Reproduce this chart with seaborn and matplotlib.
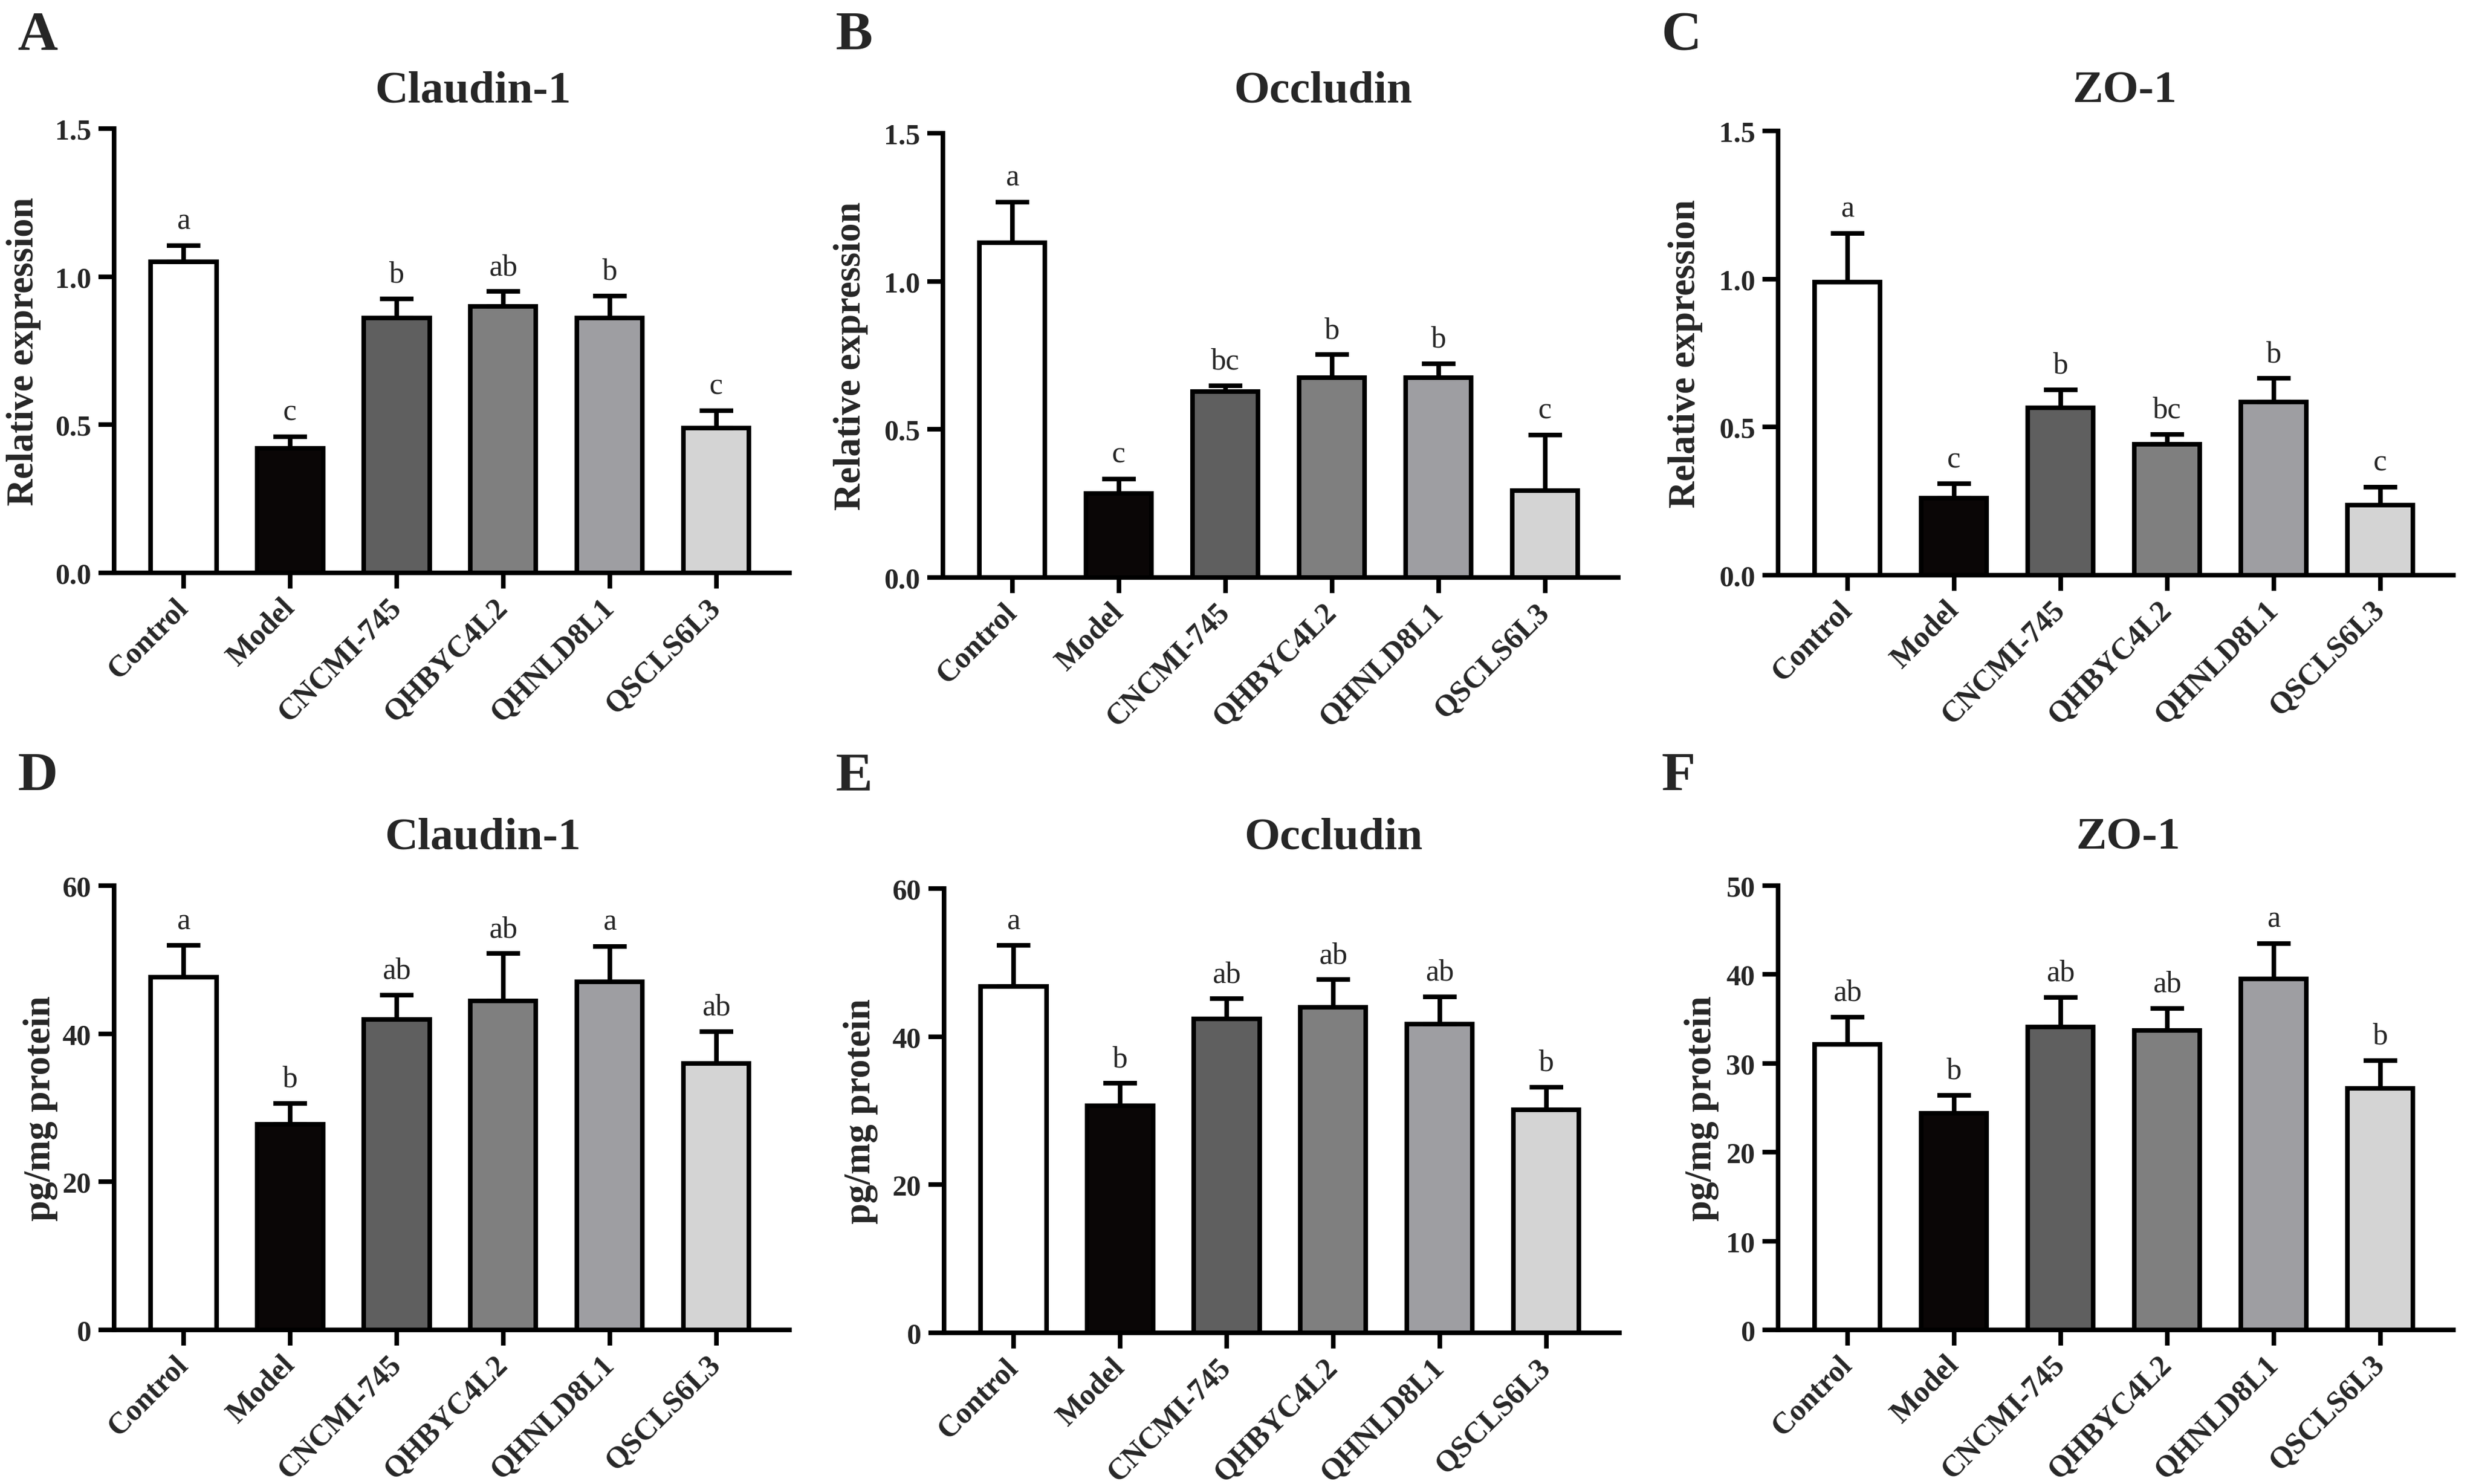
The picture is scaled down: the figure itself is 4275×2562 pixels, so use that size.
import numpy as np
import pandas as pd
import seaborn as sns
import matplotlib.pyplot as plt

# groups and bar colours
groups = ["Control", "Model", "CNCMI-745", "QHBYC4L2", "QHNLD8L1", "QSCLS6L3"]
bar_colors = ["#ffffff", "#0a0606", "#5f5f5f", "#7f7f7f", "#9e9ea2", "#d4d4d4"]

# qPCR relative expression (mean, upper error)
claudin_mrna = [1.05, 0.42, 0.86, 0.90, 0.86, 0.49]
claudin_mrna_err = [0.055, 0.04, 0.066, 0.05, 0.075, 0.058]
claudin_mrna_sig = ["a", "c", "b", "ab", "b", "c"]

occludin_mrna = [1.13, 0.283, 0.627, 0.675, 0.675, 0.293]
occludin_mrna_err = [0.137, 0.05, 0.021, 0.077, 0.047, 0.189]
occludin_mrna_sig = ["a", "c", "bc", "b", "b", "c"]

zo1_mrna = [0.99, 0.26, 0.565, 0.441, 0.584, 0.236]
zo1_mrna_err = [0.164, 0.048, 0.061, 0.034, 0.08, 0.061]
zo1_mrna_sig = ["a", "c", "b", "bc", "b", "c"]

# ELISA protein levels (pg/mg protein)
claudin_prot = [47.6, 27.8, 41.9, 44.4, 47.0, 36.0]
claudin_prot_err = [4.3, 2.8, 3.3, 6.4, 4.8, 4.3]
claudin_prot_sig = ["a", "b", "ab", "ab", "a", "ab"]

occludin_prot = [46.8, 30.7, 42.4, 44.0, 41.7, 30.1]
occludin_prot_err = [5.5, 3.0, 2.7, 3.7, 3.7, 3.1]
occludin_prot_sig = ["a", "b", "ab", "ab", "ab", "b"]

zo1_prot = [32.1, 24.4, 34.1, 33.7, 39.5, 27.2]
zo1_prot_err = [3.1, 2.0, 3.3, 2.5, 4.0, 3.1]
zo1_prot_sig = ["ab", "b", "ab", "ab", "a", "b"]

sns.set_theme(style="ticks")
plt.rcParams["font.family"] = ["Liberation Serif", "DejaVu Serif"]
plt.rcParams["font.weight"] = "bold"

LW = 1.9

fig = plt.figure(figsize=(14.25, 8.5433), dpi=300)


def draw_panel(rect, values, errs, sig, ylabel, ymax, ystep, fmt, label_x):
    ax = fig.add_axes(rect)
    df = pd.DataFrame({"group": groups, "value": values})
    sns.barplot(data=df, x="group", y="value", hue="group", palette=bar_colors,
                legend=False, errorbar=None, width=0.615, saturation=1,
                edgecolor="black", linewidth=LW, ax=ax)
    x = np.arange(len(groups))
    ax.errorbar(x, values, yerr=[np.zeros(len(values)), errs], fmt="none",
                ecolor="black", elinewidth=LW, capsize=7, capthick=LW, zorder=3)
    for i in range(len(groups)):
        ax.annotate(sig[i], (i, values[i] + errs[i]), xytext=(0, 7),
                    textcoords="offset points", ha="center", va="baseline",
                    fontsize=12.5, fontweight="normal")
    ax.set_xlim(-0.652, 5.685)
    ax.set_ylim(0, ymax)
    yt = np.arange(0, ymax + ystep / 2, ystep)
    ax.set_yticks(yt)
    ax.set_yticklabels([fmt.format(v) for v in yt], fontsize=12, fontweight="bold")
    ax.set_xticks(x)
    ax.set_xticklabels(groups, rotation=45, ha="right", va="center",
                       rotation_mode="anchor", fontsize=12.5, fontweight="bold")
    ax.tick_params(axis="both", length=6.5, width=LW, direction="out", color="black")
    ax.tick_params(axis="y", pad=3)
    ax.tick_params(axis="x", pad=6)
    sns.despine(ax=ax)
    for s in ["left", "bottom"]:
        ax.spines[s].set_linewidth(LW)
        ax.spines[s].set_color("black")
    ax.set_xlabel("")
    ax.set_ylabel(ylabel, fontsize=15.5, fontweight="bold")
    ax.yaxis.set_label_coords(label_x, 0.5)
    return ax


w = 0.2727
h = 0.2993
draw_panel([0.0461, 0.6137, w, h], claudin_mrna, claudin_mrna_err, claudin_mrna_sig,
           "Relative expression", 1.5, 0.5, "{:.1f}", -0.108)
draw_panel([0.3808, 0.6106, w, h], occludin_mrna, occludin_mrna_err, occludin_mrna_sig,
           "Relative expression", 1.5, 0.5, "{:.1f}", -0.111)
draw_panel([0.7181, 0.6122, w, h], zo1_mrna, zo1_mrna_err, zo1_mrna_sig,
           "Relative expression", 1.5, 0.5, "{:.1f}", -0.111)
draw_panel([0.0461, 0.1038, w, h], claudin_prot, claudin_prot_err, claudin_prot_sig,
           "pg/mg protein", 60, 20, "{:.0f}", -0.083)
draw_panel([0.3813, 0.1018, w, h], occludin_prot, occludin_prot_err, occludin_prot_sig,
           "pg/mg protein", 60, 20, "{:.0f}", -0.098)
draw_panel([0.7181, 0.1038, w, h], zo1_prot, zo1_prot_err, zo1_prot_sig,
           "pg/mg protein", 50, 10, "{:.0f}", -0.087)

# panel titles
titles = ["Claudin-1", "Occludin", "ZO-1", "Claudin-1", "Occludin", "ZO-1"]
title_x = [0.1909, 0.5343, 0.858, 0.1949, 0.5385, 0.8596]
title_y = [0.931, 0.931, 0.931, 0.4284, 0.4284, 0.4284]
for t, tx, ty in zip(titles, title_x, title_y):
    fig.text(tx, ty, t, ha="center", va="baseline", fontsize=19, fontweight="bold")

# panel letters
letters = ["A", "B", "C", "D", "E", "F"]
letter_x = [0.007, 0.3375, 0.671, 0.007, 0.3375, 0.671]
letter_y = [0.9664, 0.9664, 0.9664, 0.4674, 0.4674, 0.4674]
for t, tx, ty in zip(letters, letter_x, letter_y):
    fig.text(tx, ty, t, ha="left", va="baseline", fontsize=23, fontweight="bold")

fig.savefig("out.png", dpi=300, facecolor="white")
